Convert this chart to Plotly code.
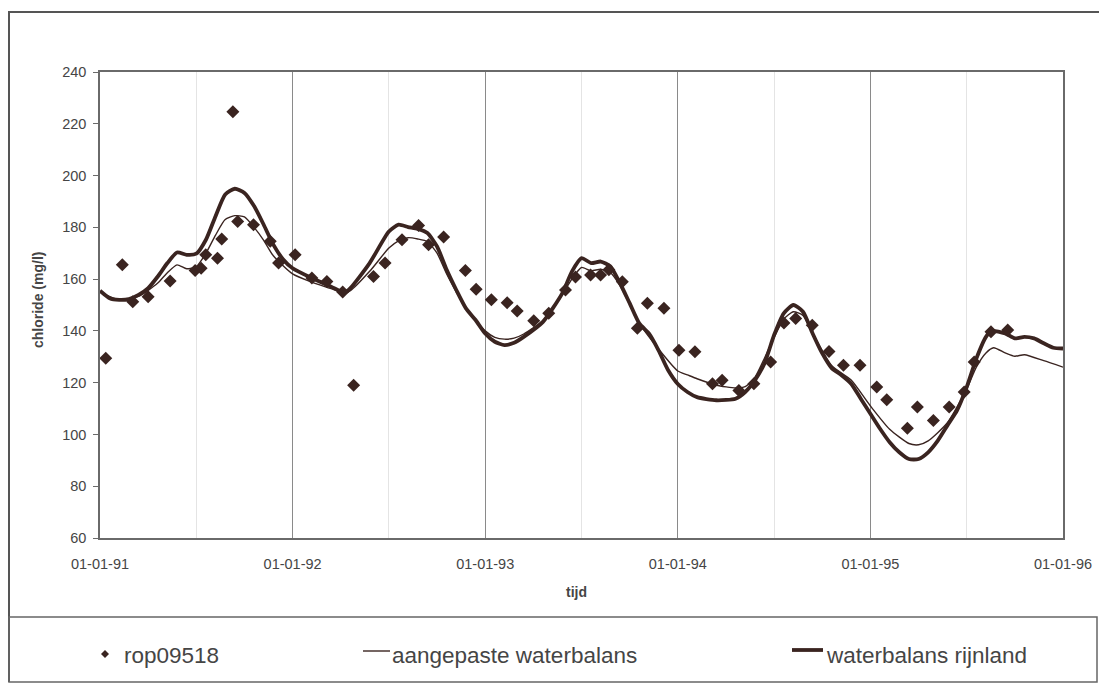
import plotly.graph_objects as go

# ---------------- data ----------------
x_tick_vals = [1991, 1992, 1993, 1994, 1995, 1996]
x_tick_text = ["01-01-91", "01-01-92", "01-01-93", "01-01-94", "01-01-95", "01-01-96"]
x_minor_vals = [1991.5, 1992.5, 1993.5, 1994.5, 1995.5]
y_tick_vals = [60, 80, 100, 120, 140, 160, 180, 200, 220, 240]

# measured points (rop09518)
obs_x = [1991.03, 1991.116, 1991.17, 1991.25, 1991.364, 1991.494, 1991.525, 1991.549,
         1991.61, 1991.632, 1991.69, 1991.715, 1991.797, 1991.884, 1991.927, 1992.013,
         1992.10, 1992.178, 1992.26, 1992.317, 1992.42, 1992.48, 1992.568, 1992.654,
         1992.706, 1992.784, 1992.897, 1992.953, 1993.032, 1993.114, 1993.166, 1993.252,
         1993.33, 1993.417, 1993.469, 1993.547, 1993.599, 1993.642, 1993.712, 1993.79,
         1993.842, 1993.928, 1994.006, 1994.089, 1994.18, 1994.23, 1994.317, 1994.395,
         1994.482, 1994.551, 1994.612, 1994.698, 1994.785, 1994.86, 1994.946, 1995.033,
         1995.085, 1995.192, 1995.244, 1995.327, 1995.409, 1995.487, 1995.539, 1995.626,
         1995.713]
obs_y = [129.4, 165.5, 151.3, 153.2, 159.3, 163.3, 164.2, 169.4,
         168.1, 175.5, 224.6, 182.3, 181.0, 174.6, 166.2, 169.4,
         160.4, 159.1, 155.0, 119.0, 161.0, 166.2, 175.2, 180.7,
         173.3, 176.3, 163.3, 156.1, 152.0, 150.9, 147.7, 143.9,
         146.8, 155.8, 160.8, 161.6, 161.6, 163.6, 159.0, 141.0,
         150.7, 148.7, 132.5, 131.9, 119.6, 120.9, 117.0, 119.6,
         128.0, 143.0, 144.8, 142.2, 132.0, 126.7, 126.7, 118.3,
         113.4, 102.4, 110.6, 105.4, 110.6, 116.4, 128.0, 139.7,
         140.3]

# aangepaste waterbalans (thin line)
thin_x = [1991.0, 1991.1, 1991.2, 1991.3, 1991.35, 1991.4, 1991.45, 1991.5, 1991.55, 1991.6,
          1991.65, 1991.7, 1991.75, 1991.8, 1991.85, 1991.9, 1992.0, 1992.1, 1992.2, 1992.27,
          1992.3, 1992.4, 1992.5, 1992.55, 1992.6, 1992.65, 1992.7, 1992.75, 1992.8, 1992.85,
          1992.9, 1993.0, 1993.05, 1993.1, 1993.15, 1993.2, 1993.3, 1993.4, 1993.45, 1993.5,
          1993.55, 1993.6, 1993.65, 1993.7, 1993.8, 1993.9, 1994.0, 1994.05, 1994.1, 1994.2,
          1994.3, 1994.35, 1994.4, 1994.5, 1994.55, 1994.6, 1994.65, 1994.7, 1994.8, 1994.9,
          1995.0, 1995.1, 1995.2, 1995.25, 1995.3, 1995.4, 1995.5, 1995.55, 1995.6, 1995.64,
          1995.7, 1995.75, 1995.8, 1995.9, 1996.0]
thin_y = [155.0, 152.0, 153.3, 158.5, 162.5, 165.5, 164.0, 164.8, 170.0, 177.0,
          183.0, 184.5, 184.0, 180.0, 175.0, 169.0, 162.0, 158.8, 156.3, 154.5,
          155.5, 163.0, 172.0, 174.8, 176.0, 175.5, 174.5, 170.0, 162.0, 155.0,
          148.5, 140.0, 137.5, 136.8, 137.2, 138.8, 144.0, 154.0, 160.0, 164.5,
          163.2, 163.8, 162.5, 157.5, 143.0, 133.0, 124.5, 123.0, 121.5, 119.0,
          118.0, 118.5, 122.0, 137.5, 144.5, 147.4, 146.0, 139.0, 126.5, 121.0,
          111.0, 102.0, 96.5, 96.0, 97.5, 104.5, 117.5, 126.0, 131.5, 133.5,
          131.5, 130.2, 130.8, 128.5, 126.0]

# waterbalans rijnland (thick line)
thick_x = [1991.0, 1991.05, 1991.1, 1991.15, 1991.2, 1991.25, 1991.3, 1991.35, 1991.4, 1991.45,
           1991.5, 1991.55, 1991.6, 1991.65, 1991.7, 1991.75, 1991.8, 1991.85, 1991.9, 1991.95,
           1992.0, 1992.1, 1992.2, 1992.27, 1992.3, 1992.4, 1992.5, 1992.55, 1992.6, 1992.65,
           1992.7, 1992.75, 1992.8, 1992.85, 1992.9, 1992.95, 1993.0, 1993.05, 1993.1, 1993.15,
           1993.2, 1993.3, 1993.4, 1993.45, 1993.5, 1993.55, 1993.6, 1993.65, 1993.7, 1993.75,
           1993.8, 1993.85, 1993.9, 1993.95, 1994.0, 1994.05, 1994.1, 1994.2, 1994.3, 1994.35,
           1994.4, 1994.45, 1994.5, 1994.55, 1994.6, 1994.65, 1994.7, 1994.75, 1994.8, 1994.85,
           1994.9, 1994.95, 1995.0, 1995.05, 1995.1, 1995.15, 1995.2, 1995.25, 1995.3, 1995.35,
           1995.4, 1995.45, 1995.5, 1995.55, 1995.6, 1995.63, 1995.7, 1995.75, 1995.8, 1995.85,
           1995.9, 1995.95, 1996.0]
thick_y = [155.5, 152.6, 152.0, 152.3, 153.9, 156.5, 161.0, 166.2, 170.3, 169.4,
           169.8, 175.2, 184.3, 192.7, 194.9, 193.3, 188.2, 181.0, 173.3, 167.7,
           164.2, 160.4, 157.1, 154.8, 156.5, 166.2, 178.4, 181.0, 180.1, 179.4,
           177.8, 172.6, 163.6, 155.8, 148.7, 144.2, 139.0, 135.8, 134.5, 135.4,
           137.7, 143.5, 154.5, 162.9, 168.1, 166.2, 166.8, 164.9, 158.4, 150.7,
           142.9, 139.0, 132.5, 124.8, 119.5, 116.4, 114.4, 113.2, 113.8, 116.4,
           120.9, 127.4, 138.4, 146.8, 150.0, 147.4, 139.0, 131.3, 125.5, 122.9,
           119.6, 113.8, 108.0, 102.2, 97.0, 93.1, 90.5, 90.5, 93.1, 97.6,
           103.5, 109.3, 118.3, 129.3, 137.7, 140.0, 139.0, 137.1, 137.7, 137.1,
           135.2, 133.5, 133.2]

series_names = ["rop09518", "aangepaste waterbalans", "waterbalans rijnland"]

# ---------------- style ----------------
INK = "#3a2420"
TXT = "#454545"
FONT = "Liberation Sans, Arial, sans-serif"

W, H = 1099, 683
L, R, T, B = 100, 1063, 72, 538


def px(xp):
    return (xp - L) / (R - L)


def py(yp):
    return (B - yp) / (B - T)


fig = go.Figure()
fig.add_trace(go.Scatter(x=thin_x, y=thin_y, mode="lines", name=series_names[1],
                         line=dict(color=INK, width=1.4, shape="spline", smoothing=0.6)))
fig.add_trace(go.Scatter(x=thick_x, y=thick_y, mode="lines", name=series_names[2],
                         line=dict(color=INK, width=3.8, shape="spline", smoothing=0.6)))
fig.add_trace(go.Scatter(x=obs_x, y=obs_y, mode="markers", name=series_names[0],
                         marker=dict(symbol="diamond", size=10, color=INK)))

shapes = []
annotations = []

# outer frame
shapes.append(dict(type="line", xref="paper", yref="paper", x0=px(8), x1=px(1099), y0=py(12), y1=py(12),
                   line=dict(color="#555", width=2)))
shapes.append(dict(type="line", xref="paper", yref="paper", x0=px(9), x1=px(9), y0=py(12), y1=py(682),
                   line=dict(color="#555", width=2)))
# legend box
shapes.append(dict(type="rect", xref="paper", yref="paper", x0=px(9), x1=px(1097), y0=py(617), y1=py(682),
                   line=dict(color="#666", width=1.5)))
# legend samples
shapes.append(dict(type="path", xref="paper", yref="paper",
                   path="M {a},{b} L {c},{d} L {a},{e} L {f},{d} Z".format(
                       a=px(105), b=py(650), c=px(109), d=py(654), e=py(658), f=px(101)),
                   fillcolor=INK, line=dict(color=INK, width=0)))
shapes.append(dict(type="line", xref="paper", yref="paper", x0=px(363), x1=px(390), y0=py(651), y1=py(651),
                   line=dict(color=INK, width=1.4)))
shapes.append(dict(type="line", xref="paper", yref="paper", x0=px(792), x1=px(823), y0=py(650), y1=py(650),
                   line=dict(color=INK, width=3.8)))

LEG_FONT = dict(family=FONT, size=22.5, color=TXT)
annotations.append(dict(xref="paper", yref="paper", x=px(122), y=py(655), text=series_names[0],
                        showarrow=False, xanchor="left", yanchor="middle", font=LEG_FONT))
annotations.append(dict(xref="paper", yref="paper", x=px(390), y=py(655), text=series_names[1],
                        showarrow=False, xanchor="left", yanchor="middle", font=LEG_FONT))
annotations.append(dict(xref="paper", yref="paper", x=px(824), y=py(655), text=series_names[2],
                        showarrow=False, xanchor="left", yanchor="middle", font=LEG_FONT))

# axis titles
annotations.append(dict(xref="paper", yref="paper", x=px(38), y=py(300), text="<b>chloride (mg/l)</b>",
                        showarrow=False, textangle=-90, xanchor="center", yanchor="middle",
                        font=dict(family=FONT, size=14, color=TXT)))
annotations.append(dict(xref="paper", yref="paper", x=px(576), y=py(592), text="<b>tijd</b>",
                        showarrow=False, xanchor="center", yanchor="middle",
                        font=dict(family=FONT, size=14, color=TXT)))

fig.update_layout(
    width=W, height=H,
    margin=dict(l=L, r=W - R, t=T, b=H - B),
    paper_bgcolor="white", plot_bgcolor="white",
    showlegend=False,
    shapes=shapes, annotations=annotations,
    font=dict(family=FONT, size=14, color=TXT),
)
fig.update_xaxes(
    range=[1991, 1996], tickvals=x_tick_vals, ticktext=x_tick_text,
    automargin=False,
    showgrid=True, gridcolor="#8a8a8a", gridwidth=1,
    showline=True, mirror=True, linecolor="#6a6a6a", linewidth=1.5,
    ticks="", zeroline=False, ticklabelstandoff=12,
    tickfont=dict(family=FONT, size=14.5, color=TXT),
    minor=dict(tickvals=x_minor_vals, showgrid=True, gridcolor="#e4e4e4", gridwidth=1),
)
fig.update_yaxes(
    range=[60, 240], tickvals=y_tick_vals,
    automargin=False,
    showgrid=False, zeroline=False,
    showline=True, mirror=True, linecolor="#6a6a6a", linewidth=1.5,
    ticks="outside", ticklen=5, tickcolor="#6a6a6a",
    ticklabelstandoff=4,
    tickfont=dict(family=FONT, size=14.5, color=TXT),
)

fig.write_html("out.html")
